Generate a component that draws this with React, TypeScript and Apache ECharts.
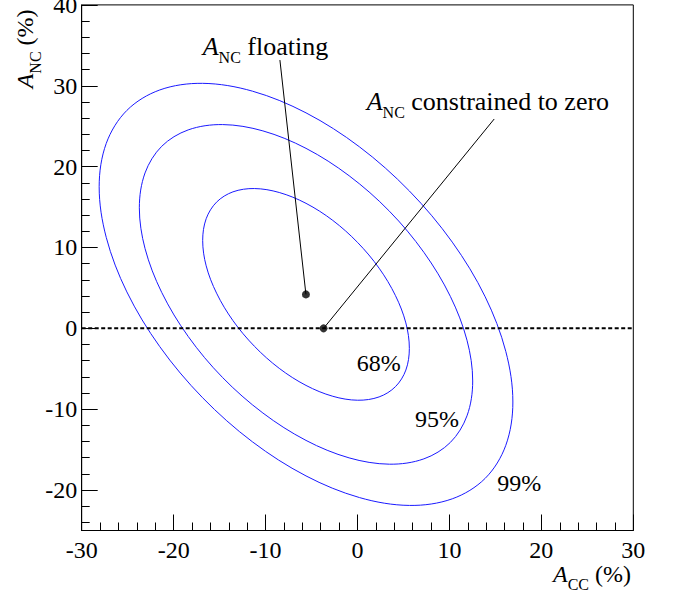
import React, { useEffect, useRef } from 'react';
import * as echarts from 'echarts';

// Confidence contours (A_CC %, A_NC %)
const contour68: [number, number][] = [
  [5.64, -2.48], [5.26, 0.67], [4.13, 4.05], [2.35, 7.44], [0.02, 10.61], [-2.69, 13.35],
  [-5.6, 15.46], [-8.51, 16.8], [-11.22, 17.29], [-13.55, 16.88], [-15.33, 15.61], [-16.46, 13.56],
  [-16.84, 10.88], [-16.46, 7.73], [-15.33, 4.35], [-13.55, 0.96], [-11.22, -2.21], [-8.51, -4.95],
  [-5.6, -7.06], [-2.69, -8.4], [0.02, -8.89], [2.35, -8.48], [4.13, -7.21], [5.26, -5.16],
];
const contour95: [number, number][] = [
  [12.53, -6.51], [11.91, -1.47], [10.1, 3.95], [7.22, 9.4], [3.47, 14.49], [-0.91, 18.87],
  [-5.6, 22.26], [-10.29, 24.42], [-14.67, 25.2], [-18.42, 24.54], [-21.3, 22.51], [-23.11, 19.22],
  [-23.73, 14.91], [-23.11, 9.87], [-21.3, 4.45], [-18.42, -1.0], [-14.67, -6.09], [-10.29, -10.47],
  [-5.6, -13.86], [-0.91, -16.02], [3.47, -16.8], [7.22, -16.14], [10.1, -14.11], [11.91, -10.82],
];
const contour99: [number, number][] = [
  [16.9, -9.11], [16.13, -2.85], [13.89, 3.9], [10.31, 10.66], [5.65, 16.98], [0.22, 22.44],
  [-5.6, 26.65], [-11.42, 29.33], [-16.85, 30.3], [-21.51, 29.48], [-25.09, 26.95], [-27.33, 22.87],
  [-28.1, 17.51], [-27.33, 11.25], [-25.09, 4.51], [-21.51, -2.26], [-16.85, -8.58], [-11.42, -14.04],
  [-5.6, -18.25], [0.22, -20.93], [5.65, -21.9], [10.31, -21.08], [13.89, -18.55], [16.13, -14.47],
];
const contours = [contour68, contour95, contour99];
const contourLabels = ['68%', '95%', '99%'];

const fitPoints: [number, number][] = [[-5.61, 4.2], [-3.69, 0]];
const floatingLeader: [number, number][] = [[-5.61, 4.2], [-8.44, 33.18]];
const constrainedLeader: [number, number][] = [[-3.69, 0], [14.87, 25.89]];
const zeroLine: [number, number][] = [[-30, 0], [30, 0]];

const xRange = [-30, 30];
const yRange = [-25, 40];

const SERIF = 'Liberation Serif';

function subText(main: string, sub: string, rest: string, size: number, pad: number) {
  return {
    text: `{a|${main}}{s|${sub}}{t|${rest}}`,
    rich: {
      a: { fontFamily: SERIF, fontSize: size, fontStyle: 'italic', fill: '#000' },
      s: { fontFamily: SERIF, fontSize: 16, fill: '#000', padding: [pad, 0, 0, 0] },
      t: { fontFamily: SERIF, fontSize: size, fill: '#000' },
    },
    fontFamily: SERIF,
    fontSize: size,
    fill: '#000',
    align: 'left',
    verticalAlign: 'middle',
  };
}

function plainText(text: string) {
  return { text, fontFamily: SERIF, fontSize: 24, fill: '#000', align: 'left', verticalAlign: 'middle' };
}

export default function App() {
  const ref = useRef<HTMLDivElement>(null);
  useEffect(() => {
    document.body.style.margin = '0';
    if (!ref.current) return;
    const chart = echarts.init(ref.current, undefined, { renderer: 'svg' });
    const tickStyle = { color: '#000', width: 1 };
    chart.setOption({
      animation: false,
      textStyle: { fontFamily: SERIF },
      grid: {
        left: 81.7, right: 43.7, top: 4.9, bottom: 70.5,
        show: true, borderColor: '#000', borderWidth: 1, backgroundColor: 'transparent',
        outerBoundsMode: 'none',
      },
      xAxis: {
        type: 'value', min: xRange[0], max: xRange[1], interval: 10,
        axisLine: { show: true, onZero: false, lineStyle: tickStyle },
        axisTick: { show: true, inside: true, length: 16, lineStyle: tickStyle },
        minorTick: { show: true, splitNumber: 5, length: 8, lineStyle: tickStyle },
        splitLine: { show: false },
        axisLabel: { color: '#000', fontSize: 24, fontFamily: SERIF, margin: 7, hideOverlap: false },
      },
      yAxis: {
        type: 'value', min: yRange[0], max: yRange[1], minInterval: 10, maxInterval: 10,
        axisLine: { show: true, onZero: false, lineStyle: tickStyle },
        axisTick: { show: true, inside: true, length: 16, lineStyle: tickStyle },
        minorTick: { show: true, splitNumber: 5, length: 8, lineStyle: tickStyle },
        splitLine: { show: false },
        axisLabel: {
          color: '#000', fontSize: 24, fontFamily: SERIF, margin: 4.5,
          showMinLabel: false, showMaxLabel: true, hideOverlap: false,
          formatter: (v: number) => (v % 10 === 0 ? String(v) : ''),
        },
      },
      series: [
        {
          type: 'custom',
          coordinateSystem: 'cartesian2d',
          data: contours.map((c, i) => [c[0][0], c[0][1], i]),
          encode: { x: 0, y: 1 },
          silent: true,
          z: 2,
          renderItem: (_params: any, api: any) => {
            const idx = api.value(2);
            const pts = contours[idx].map((p) => api.coord(p));
            return {
              type: 'polygon',
              shape: { points: pts, smooth: 0.34 },
              style: { fill: 'none', stroke: '#1a1aff', lineWidth: 1 },
            };
          },
        },
        {
          type: 'line', data: zeroLine, showSymbol: false, silent: true, z: 3,
          lineStyle: { color: '#000', width: 2, type: [4, 2.5] },
        },
        {
          type: 'line', data: floatingLeader, showSymbol: false, silent: true, z: 3,
          lineStyle: { color: '#000', width: 1 },
        },
        {
          type: 'line', data: constrainedLeader, showSymbol: false, silent: true, z: 3,
          lineStyle: { color: '#000', width: 1 },
        },
        {
          type: 'scatter', data: fitPoints, symbol: 'circle', symbolSize: 8, silent: true, z: 4,
          itemStyle: { color: '#000' },
        },
      ],
      graphic: [
        { type: 'text', x: 202.7, y: 46.5, style: subText('A', 'NC', ' floating', 26, 21) },
        { type: 'text', x: 366.7, y: 101.9, style: subText('A', 'NC', ' constrained to zero', 26, 21) },
        { type: 'text', x: 553, y: 574.2, style: subText('A', 'CC', ' (%)', 24, 20) },
        { type: 'text', x: 25.2, y: 88.3, rotation: Math.PI / 2, style: subText('A', 'NC', ' (%)', 24, 20) },
        { type: 'text', x: 356.7, y: 362.6, style: plainText(contourLabels[0]) },
        { type: 'text', x: 415, y: 418.6, style: plainText(contourLabels[1]) },
        { type: 'text', x: 497.3, y: 482.6, style: plainText(contourLabels[2]) },
      ],
    });
    return () => chart.dispose();
  }, []);
  return <div ref={ref} style={{ width: 677, height: 601 }} />;
}
